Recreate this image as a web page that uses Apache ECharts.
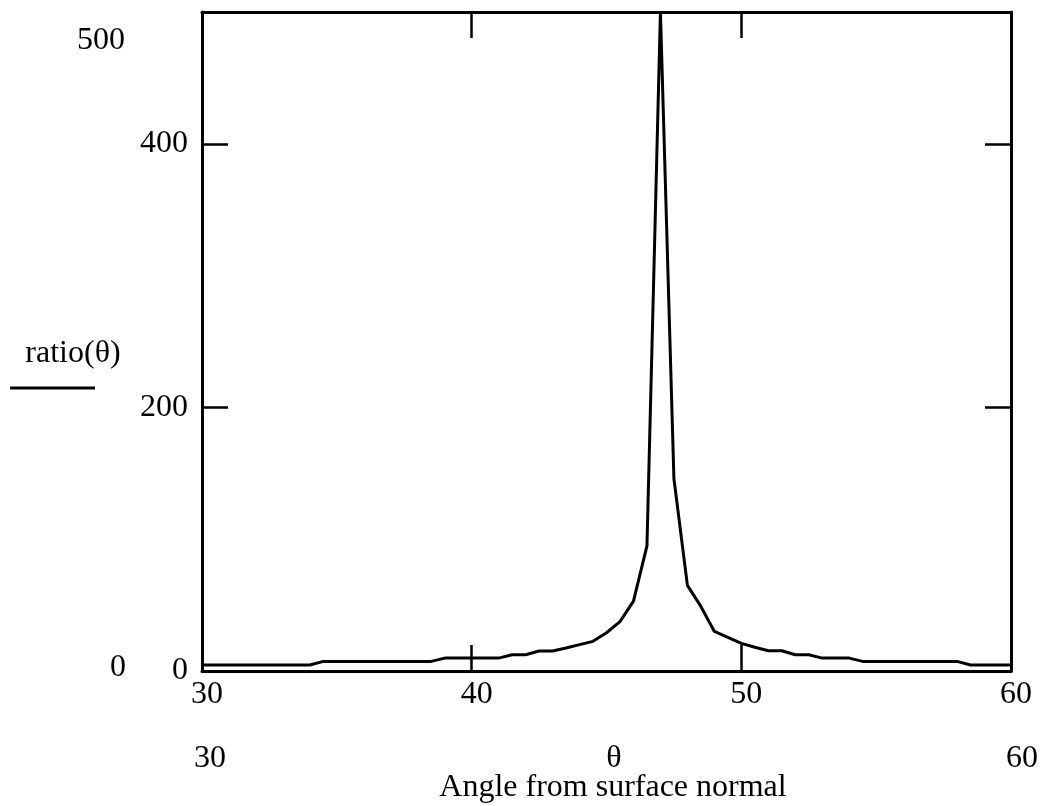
<!DOCTYPE html>
<html>
<head>
<meta charset="utf-8">
<title>ratio(θ)</title>
<script src="https://cdn.jsdelivr.net/npm/echarts@6/dist/echarts.min.js"></script>
<style>
    html, body { margin: 0; padding: 0; background: #fff; overflow: hidden; }
    #chart { width: 1040px; height: 806px; }
</style>
</head>
<body>
<div id="chart"></div>
<script>
// angle from surface normal, sampled every half degree
var thetaValues = [
    30, 30.5, 31, 31.5, 32, 32.5, 33, 33.5, 34, 34.5,
    35, 35.5, 36, 36.5, 37, 37.5, 38, 38.5, 39, 39.5,
    40, 40.5, 41, 41.5, 42, 42.5, 43, 43.5, 44, 44.5,
    45, 45.5, 46, 46.5, 47, 47.5, 48, 48.5, 49, 49.5,
    50, 50.5, 51, 51.5, 52, 52.5, 53, 53.5, 54, 54.5,
    55, 55.5, 56, 56.5, 57, 57.5, 58, 58.5, 59, 59.5, 60
];
// ratio(θ)
var ratioValues = [
    4.5, 4.5, 4.5, 4.5, 4.5, 4.5, 4.5, 4.5, 4.5, 7.3,
    7.3, 7.3, 7.3, 7.3, 7.3, 7.3, 7.3, 7.3, 9.8, 9.8,
    9.8, 9.8, 9.8, 12.3, 12.3, 15.2, 15.2, 17.5, 20, 22.5,
    29, 37.5, 53, 95, 500, 146, 65, 49, 30, 25.5,
    21, 18, 15.4, 15.4, 12.3, 12.3, 9.8, 9.8, 9.8, 7.3,
    7.3, 7.3, 7.3, 7.3, 7.3, 7.3, 7.3, 4.5, 4.5, 4.5, 4.5
];
var xTicks = [30, 60, 10];   // min, max, step
var yTicks = [0, 500, 200];  // min, max, step

var font = 'Liberation Serif';
var textFont = '32px "Liberation Serif"';
var points = thetaValues.map(function (t, i) { return [t, ratioValues[i]]; });

var chart = echarts.init(document.getElementById('chart'));

var frameLine = { show: true, onZero: false, lineStyle: { color: '#000', width: 3 } };
var innerTick = { show: true, inside: true, length: 26, lineStyle: { color: '#000', width: 2.5 } };

function label(text, x, y, align) {
    return {
        type: 'text', x: x, y: y,
        style: { text: text, font: textFont, fill: '#000', textAlign: align || 'center', textVerticalAlign: 'middle' }
    };
}

var option = {
    backgroundColor: '#fff',
    animation: false,
    grid: { left: 202, right: 29, top: 12, bottom: 135, containLabel: false, outerBoundsMode: 'none' },
    xAxis: [
        {
            type: 'value', position: 'bottom',
            min: xTicks[0], max: xTicks[1], interval: xTicks[2],
            axisLine: frameLine, axisTick: innerTick, splitLine: { show: false },
            axisLabel: {
                color: '#000', fontFamily: font, fontSize: 32, margin: 8,
                padding: [0, 0, 0, 10]
            }
        },
        {
            type: 'value', position: 'top',
            min: xTicks[0], max: xTicks[1], interval: xTicks[2],
            axisLine: frameLine, axisTick: innerTick, splitLine: { show: false },
            axisLabel: { show: false }
        }
    ],
    yAxis: [
        {
            type: 'value', position: 'left',
            min: yTicks[0], max: yTicks[1], interval: yTicks[2],
            axisLine: frameLine, axisTick: innerTick, splitLine: { show: false },
            axisLabel: {
                color: '#000', fontFamily: font, fontSize: 32, margin: 14,
                padding: [12, 0, 0, 0],
                formatter: function (v) { return v === yTicks[1] ? '' : String(v); }
            }
        },
        {
            type: 'value', position: 'right',
            min: yTicks[0], max: yTicks[1], interval: yTicks[2],
            axisLine: frameLine, axisTick: innerTick, splitLine: { show: false },
            axisLabel: { show: false }
        }
    ],
    graphic: [
        label('500', 101, 41),
        label('0', 118, 668),
        label('ratio(θ)', 73, 354),
        { type: 'line', shape: { x1: 10, y1: 388, x2: 95, y2: 388 }, style: { stroke: '#000', lineWidth: 3 } },
        label('30', 210, 759),
        label('θ', 614, 759),
        label('60', 1022, 759),
        label('Angle from surface normal', 613, 788)
    ],
    series: [
        {
            type: 'line',
            data: points,
            showSymbol: false,
            lineStyle: { color: '#000', width: 3 },
            clip: true
        }
    ]
};

chart.setOption(option);

window.addEventListener('resize', function () {
    chart.resize();
});
</script>
</body>
</html>
